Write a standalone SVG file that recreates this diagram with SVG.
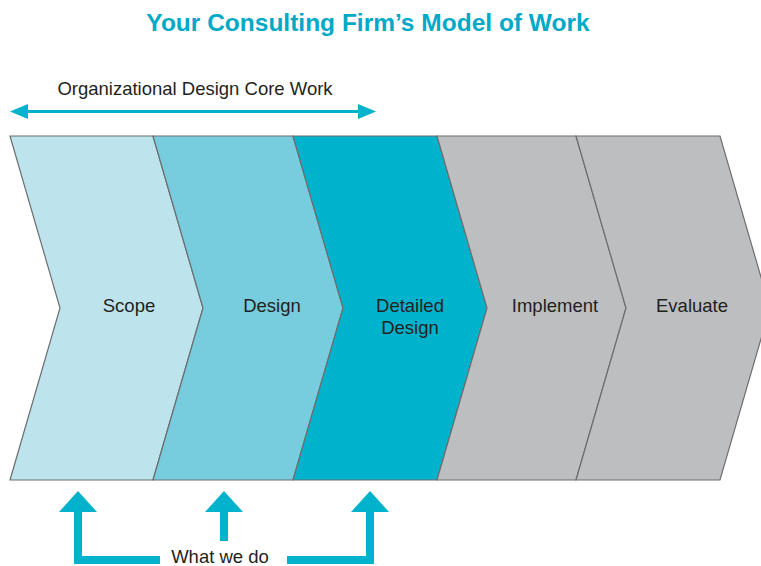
<svg xmlns="http://www.w3.org/2000/svg" width="761" height="566" viewBox="0 0 761 566">
<style>
.t{font-family:"Liberation Sans",Arial,sans-serif;font-size:18.5px;fill:#231f20;text-anchor:middle}
.title{font-family:"Liberation Sans",Arial,sans-serif;font-size:24.5px;font-weight:bold;fill:#00a9c8;text-anchor:middle}
.chev{stroke:#6d6e71;stroke-width:1.2;stroke-linejoin:miter}
.cy{fill:#00b2cb}
</style>
<rect width="761" height="566" fill="#fff"/>
<text class="title" x="368" y="31">Your Consulting Firm’s Model of Work</text>
<g id="core-work">
<text class="t" x="195" y="95">Organizational Design Core Work</text>
<line x1="24" y1="111.5" x2="362" y2="111.5" stroke="#00b2cb" stroke-width="3"/>
<polygon class="cy" points="10,111.5 28,104 28,119"/>
<polygon class="cy" points="376,111.5 358,104 358,119"/>
</g>
<g id="scope">
<polygon class="chev" fill="#bde4ec" points="10,136 153,136 203,308 153,480 10,480 60,308"/>
<text class="t" x="129" y="312">Scope</text>
</g>
<g id="design">
<polygon class="chev" fill="#77cddd" points="153,136 293,136 343,308 293,480 153,480 203,308"/>
<text class="t" x="272" y="312">Design</text>
</g>
<g id="detailed-design">
<polygon class="chev" fill="#00b2cb" points="293,136 437,136 487,308 437,480 293,480 343,308"/>
<text class="t" x="410" y="312">Detailed</text>
<text class="t" x="410" y="334">Design</text>
</g>
<g id="implement">
<polygon class="chev" fill="#bcbec0" points="437,136 576,136 626,308 576,480 437,480 487,308"/>
<text class="t" x="555" y="312">Implement</text>
</g>
<g id="evaluate">
<polygon class="chev" fill="#bcbec0" points="576,136 720,136 770,308 720,480 576,480 626,308"/>
<text class="t" x="692" y="312">Evaluate</text>
</g>
<g id="what-we-do">
<text class="t" x="220" y="563">What we do</text>
<g fill="#00b2cb">
<polygon points="78,491 97,512 59,512"/>
<polygon points="74,511 82,511 82,556 160,556 160,564 74,564"/>
<polygon points="224,491 243,512 205,512"/>
<rect x="220" y="511" width="8" height="30"/>
<polygon points="370,491 389,512 351,512"/>
<polygon points="366,511 374,511 374,564 287,564 287,556 366,556"/>
</g>
</g>
</svg>
